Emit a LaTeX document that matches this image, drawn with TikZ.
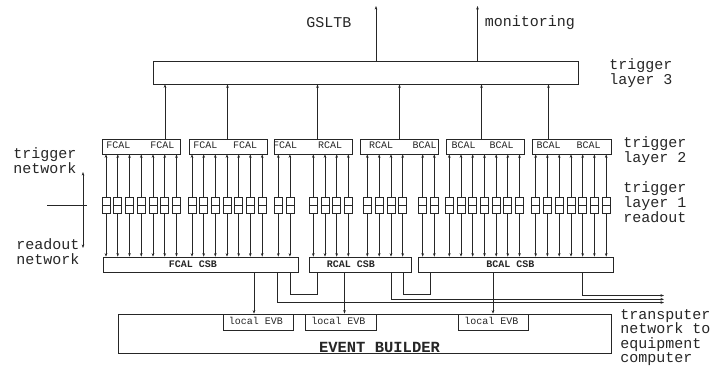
\documentclass[tikz,border=0pt]{standalone}
\usepackage{fontspec}
\setmainfont{Liberation Mono}
\usetikzlibrary{arrows.meta}
\begin{document}
\begin{tikzpicture}[x=1pt,y=-1pt,line width=0.7pt,draw=black!85,
  >={Stealth[length=3.5pt,width=2.6pt]},
  big/.style={font=\fontsize{15}{15}\selectfont,align=left,inner sep=0pt,text=black!85},
  sm/.style={font=\fontsize{10}{10}\selectfont,inner sep=0pt,text=black!85},
  smb/.style={font=\fontsize{10}{10}\selectfont\bfseries,inner sep=0pt,text=black!85},
  bigb/.style={font=\fontsize{15.5}{15.5}\selectfont\bfseries,inner sep=0pt,text=black!85},
  blk/.style={draw=black!85,line width=0.7pt,inner sep=0pt,minimum height=15pt}]
\useasboundingbox (0,0) rectangle (713,368);

% layer 3
\node[blk,minimum width=425pt,minimum height=23pt] (L3) at (365.5,72.5) {};
\node[big] (gsltb) at (329,23) {GSLTB};
\node[big] (mon) at (530,23) {monitoring};
\coordinate (top) at (0,6);
\draw[->] (376,0 |- L3.north) -- (376,0 |- top);
\draw[->] (477.5,0 |- L3.north) -- (477.5,0 |- top);
\node[big,anchor=west] (t3) at (609,73.5) {trigger\\layer 3};

% layer 2
\node[blk,minimum width=78pt] (L2a) at (141,146.5) {};
\node[blk,minimum width=78pt] (L2b) at (228,146.5) {};
\node[blk,minimum width=78pt] (L2c) at (313,146.5) {};
\node[blk,minimum width=78pt] (L2d) at (399,146.5) {};
\node[blk,minimum width=78pt] (L2e) at (485,146.5) {};
\node[blk,minimum width=79pt] (L2f) at (571.5,146.5) {};
\foreach \n/\x/\t in {a1/118.5/FCAL,a2/162.5/FCAL,b1/205.5/FCAL,b2/245/FCAL,
  c1/285/FCAL,c2/330/RCAL,d1/381/RCAL,d2/424.5/BCAL,e1/463.5/BCAL,e2/501.5/BCAL,
  f1/548.5/BCAL,f2/588.5/BCAL}
  \node[sm] (lab\n) at (\x,145.5) {\t};
\foreach \b/\x in {L2a/165,L2b/227.5,L2c/317.5,L2d/399.5,L2e/481.5,L2f/548.5}
  \draw[->] (\x,0 |- \b.north) -- (\x,0 |- L3.south);
\node[big,anchor=west] (t2) at (623,151) {trigger\\layer 2};
\node[big,anchor=west] (t1) at (623,202) {trigger\\layer 1\\readout};

% CSBs
\node[blk,minimum width=195pt] (csbF) at (200.5,264.5) {};
\node[blk,minimum width=102pt] (csbR) at (360,264.5) {};
\node[blk,minimum width=195pt] (csbB) at (515.5,264.5) {};
\node[smb] (lF) at (193,264) {FCAL CSB};
\node[smb] (lR) at (351,264) {RCAL CSB};
\node[smb] (lB) at (510.5,264) {BCAL CSB};

% layer 1 lines and readout cells
\foreach \a/\b/\xs in {
  L2a/csbF/{106,117.75,129.5,141.25,153,164.75,176.5},
  L2b/csbF/{192,203.7,215.3,227,238.7,250.3,262.2},
  L2c/csbF/{278.3,289.9},
  L2c/csbR/{313.3,325,336.7,348.3},
  L2d/csbR/{367.3,379.2,391,402.7},
  L2d/csbB/{422.7,434.3},
  L2e/csbB/{449.3,461,472.7,484.5,496.2,507.8,519.5},
  L2f/csbB/{535.7,547.4,559.2,571,582.7,594.4,606.2}}{
  \foreach \x in \xs {
    \draw[<->] (\x,0 |- \a.south) -- (\x,0 |- \b.north);
    \draw[fill=white] (\x-4,197) rectangle (\x+4,213);
    \draw (\x-4,205) -- (\x+4,205);
  }
}

% trigger / readout network
\node[big,anchor=west] (tn) at (13,161) {trigger\\network};
\node[big,anchor=west] (rn) at (16,251.5) {readout\\network};
\coordinate (mid) at (83,205);
\coordinate (up) at (83,172);
\coordinate (dn) at (83,248);
\draw (47,205) -- (87,205);
\draw[->] (mid) -- (up);
\draw[->] (mid) -- (dn);

% event builder
\node[blk,minimum width=493pt,minimum height=39pt] (evb) at (364.5,333.5) {};
\node[bigb] (evbt) at (379.5,347) {EVENT BUILDER};
\node[blk,minimum width=70pt,minimum height=16pt] (lev1) at (258,322) {};
\node[blk,minimum width=71pt,minimum height=16pt] (lev2) at (340.5,322) {};
\node[blk,minimum width=70pt,minimum height=16pt] (lev3) at (493,322) {};
\node[sm] at (256,321) {local EVB};
\node[sm] at (338.5,321) {local EVB};
\node[sm] at (491.5,321) {local EVB};

\draw[->] (254,0 |- csbF.south) -- (254,0 |- lev1.north);
\draw[->] (344.5,0 |- csbR.south) -- (344.5,0 |- lev2.north);
\draw[->] (493,0 |- csbB.south) -- (493,0 |- lev3.north);

% transputer network
\coordinate (tpF) at (664,302.5);
\coordinate (tpR) at (664,299.3);
\coordinate (tpB) at (664,295.5);
\draw[->] (277.7,0 |- csbF.south) |- (tpF);
\draw[->] (391.7,0 |- csbR.south) |- (tpR);
\draw[->] (582.7,0 |- csbB.south) |- (tpB);
\draw (290,0 |- csbF.south) -- (290,294.7) -- (317.3,294.7) -- (317.3,0 |- csbR.south);
\draw (403.3,0 |- csbR.south) -- (403.3,294.7) -- (430.7,294.7) -- (430.7,0 |- csbB.south);
\node[font=\fontsize{15}{14.3}\selectfont,align=left,inner sep=0pt,text=black!85,anchor=west] (tp) at (620,337.5)
  {transputer\\network to\\equipment\\computer};
\end{tikzpicture}
\end{document}
